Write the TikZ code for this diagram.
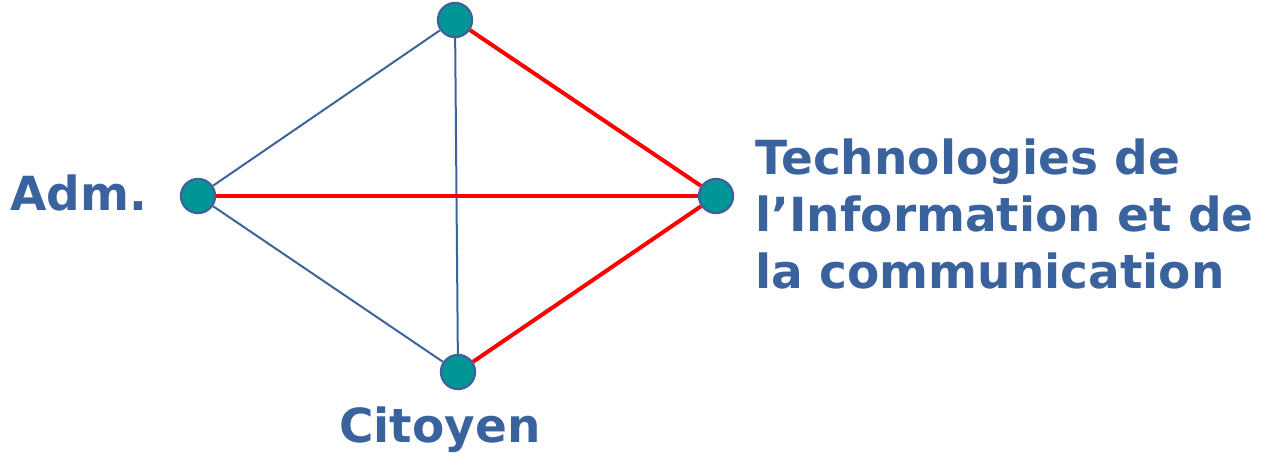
\documentclass[tikz,border=0pt]{standalone}
\usepackage{fontspec}
\setmainfont{DejaVu Sans}
\usepackage{xcolor}
\usepackage{tikz}

\definecolor{titleblue}{RGB}{58,99,158}
\definecolor{edgeblue}{RGB}{60,100,155}
\definecolor{teal}{RGB}{0,150,150}

\tikzset{
  vertex/.style={circle, fill=teal, draw=edgeblue, line width=1.2pt, minimum size=17pt, inner sep=0pt},
  thin link/.style={draw=edgeblue, line width=1pt},
  red link/.style={draw=red, line width=2pt},
  label text/.style={text=titleblue, font=\bfseries\fontsize{23.5}{28.5}\selectfont, inner sep=0pt}
}

\begin{document}
\begin{tikzpicture}[x=0.5pt, y=-0.5pt]
\useasboundingbox (0,0) rectangle (1268,457);
\node[vertex] (top) at (455,20) {};
\node[vertex] (adm) at (198,196) {};
\node[vertex] (tic) at (716,196) {};
\node[vertex] (cit) at (458,372) {};

%liens
\draw[thin link] (top) -- (adm);
\draw[thin link] (adm) -- (cit);
\draw[thin link] (top) -- (cit);
\draw[red link] (adm) -- (tic);
\draw[red link] (top) -- (tic);
\draw[red link] (cit) -- (tic);

\node[label text, anchor=west] (admlabel) at (10,193) {Adm.};
\node[label text, anchor=north west, align=left] (ticlabel) at (755,138) {Technologies de\\l'Information et de\\la communication};
\node[label text] (citlabel) at (440,430) {Citoyen};
\end{tikzpicture}
\end{document}
